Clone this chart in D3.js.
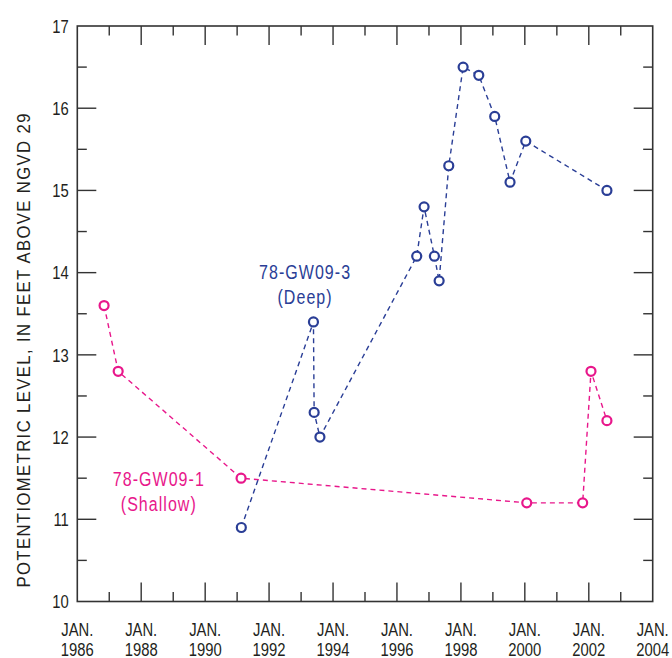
<!DOCTYPE html>
<html>
<head>
<meta charset="utf-8">
<script src="https://cdn.jsdelivr.net/npm/d3@7"></script>
<style>
  html, body { margin: 0; padding: 0; background: #fff; }
  svg { display: block; }
  text { font-family: "Liberation Sans", Arial, sans-serif; }
</style>
</head>
<body>
<svg id="chart" width="672" height="658"></svg>
<script>
// ---- Data ----
const deepDates = ["1991-02-18","1993-05-22","1993-05-30","1993-08-04","1996-08-14","1996-11-06","1997-03-04","1997-04-27","1997-08-15","1998-01-26","1998-07-24","1999-01-22","1999-07-16","2000-01-12","2002-07-27"];
const deepValues = [10.9, 13.4, 12.3, 12.0, 14.2, 14.8, 14.2, 13.9, 15.3, 16.5, 16.4, 15.9, 15.1, 15.6, 15.0];
const shallowDates = ["1986-11-03","1987-04-13","1991-02-15","2000-01-23","2001-10-23","2002-01-26","2002-07-27"];
const shallowValues = [13.6, 12.8, 11.5, 11.2, 11.2, 12.8, 12.2];
const xTickYears = [1986, 1988, 1990, 1992, 1994, 1996, 1998, 2000, 2002, 2004];
const yTickValues = [10, 11, 12, 13, 14, 15, 16, 17];
const deepLabel = ["78-GW09-3", "(Deep)"];
const shallowLabel = ["78-GW09-1", "(Shallow)"];
const yTitle = "POTENTIOMETRIC LEVEL, IN FEET ABOVE NGVD 29";

// ---- Layout ----
const margin = { left: 77.3, top: 26, right: 672 - 652.7, bottom: 658 - 601.5 };
const W = 672, H = 658;
const iw = W - margin.left - margin.right, ih = H - margin.top - margin.bottom;
const blue = "#2a3e96", pink = "#e8178b", axisCol = "#333", textCol = "#231f20";
const SX = 0.78; // condensed look

const parse = d3.timeParse("%Y-%m-%d");
const x = d3.scaleTime().domain([new Date(1986,0,1), new Date(2004,0,1)]).range([0, iw]);
const y = d3.scaleLinear().domain([10, 17]).range([ih, 0]);

const svg = d3.select("#chart");
const g = svg.append("g").attr("transform", `translate(${margin.left},${margin.top})`);

function ctext(parent, tx, ty, str, opts) {
  const o = Object.assign({ size: 19, anchor: "middle", fill: textCol, sx: SX, rot: 0, ls: 0, len: null }, opts || {});
  const gg = parent.append("g").attr("transform", `translate(${tx},${ty}) rotate(${o.rot}) scale(${o.sx},1)`);
  const t = gg.append("text").attr("text-anchor", o.anchor).attr("font-size", o.size)
    .attr("fill", o.fill).attr("letter-spacing", o.ls).text(str);
  if (o.len) t.attr("textLength", o.len / o.sx).attr("lengthAdjust", "spacing");
  return gg;
}

// frame
g.append("rect").attr("x", 0).attr("y", 0).attr("width", iw).attr("height", ih)
  .attr("fill", "none").attr("stroke", axisCol).attr("stroke-width", 1.6);

const allYears = d3.range(1986, 2005);
const majorLen = 19, minorLen = 9.5;
allYears.forEach(yr => {
  const xx = x(new Date(yr,0,1));
  const len = (yr % 2 === 0) ? majorLen : minorLen;
  if (yr === 1986 || yr === 2004) return;
  g.append("line").attr("x1", xx).attr("x2", xx).attr("y1", ih).attr("y2", ih - len)
    .attr("stroke", axisCol).attr("stroke-width", 1.4);
  g.append("line").attr("x1", xx).attr("x2", xx).attr("y1", 0).attr("y2", len)
    .attr("stroke", axisCol).attr("stroke-width", 1.4);
});
d3.range(10, 17.01, 0.5).forEach(v => {
  if (v === 10 || v === 17) return;
  const yy = y(v);
  const len = Number.isInteger(v) ? majorLen : minorLen;
  g.append("line").attr("x1", 0).attr("x2", len).attr("y1", yy).attr("y2", yy)
    .attr("stroke", axisCol).attr("stroke-width", 1.4);
  g.append("line").attr("x1", iw).attr("x2", iw - len).attr("y1", yy).attr("y2", yy)
    .attr("stroke", axisCol).attr("stroke-width", 1.4);
});

// y tick labels
yTickValues.forEach(v => ctext(g, -8.5, y(v) + 6.8, String(v), { anchor: "end" }));

// x tick labels
xTickYears.forEach(yr => {
  const xx = x(new Date(yr,0,1));
  ctext(g, xx, ih + 34.5, "JAN.");
  ctext(g, xx, ih + 54, String(yr));
});

// y title
ctext(svg, 30, 350.5, yTitle, { size: 18.5, rot: -90, sx: 0.9, len: 474 });

// series
function drawSeries(dates, values, color) {
  const pts = dates.map((d, i) => ({ date: parse(d), v: values[i] }));
  const line = d3.line().x(d => x(d.date)).y(d => y(d.v));
  g.append("path").datum(pts).attr("d", line).attr("fill", "none")
    .attr("stroke", color).attr("stroke-width", 1.4).attr("stroke-dasharray", "5,4");
  g.selectAll(null).data(pts).join("circle")
    .attr("cx", d => x(d.date)).attr("cy", d => y(d.v)).attr("r", 4.5)
    .attr("fill", "#fff").attr("stroke", color).attr("stroke-width", 2.2);
}
drawSeries(shallowDates, shallowValues, pink);
drawSeries(deepDates, deepValues, blue);

// series labels
function label(lines, cx, cy, color) {
  lines.forEach((t, i) => ctext(g, cx, cy + i * 25, t, { size: 20, fill: color, sx: 0.8, ls: 1.3 }));
}
label(deepLabel, x(new Date(1993,1,15)), y(13.92), blue);
label(shallowLabel, x(new Date(1988,6,20)), y(11.40), pink);
</script>
</body>
</html>
